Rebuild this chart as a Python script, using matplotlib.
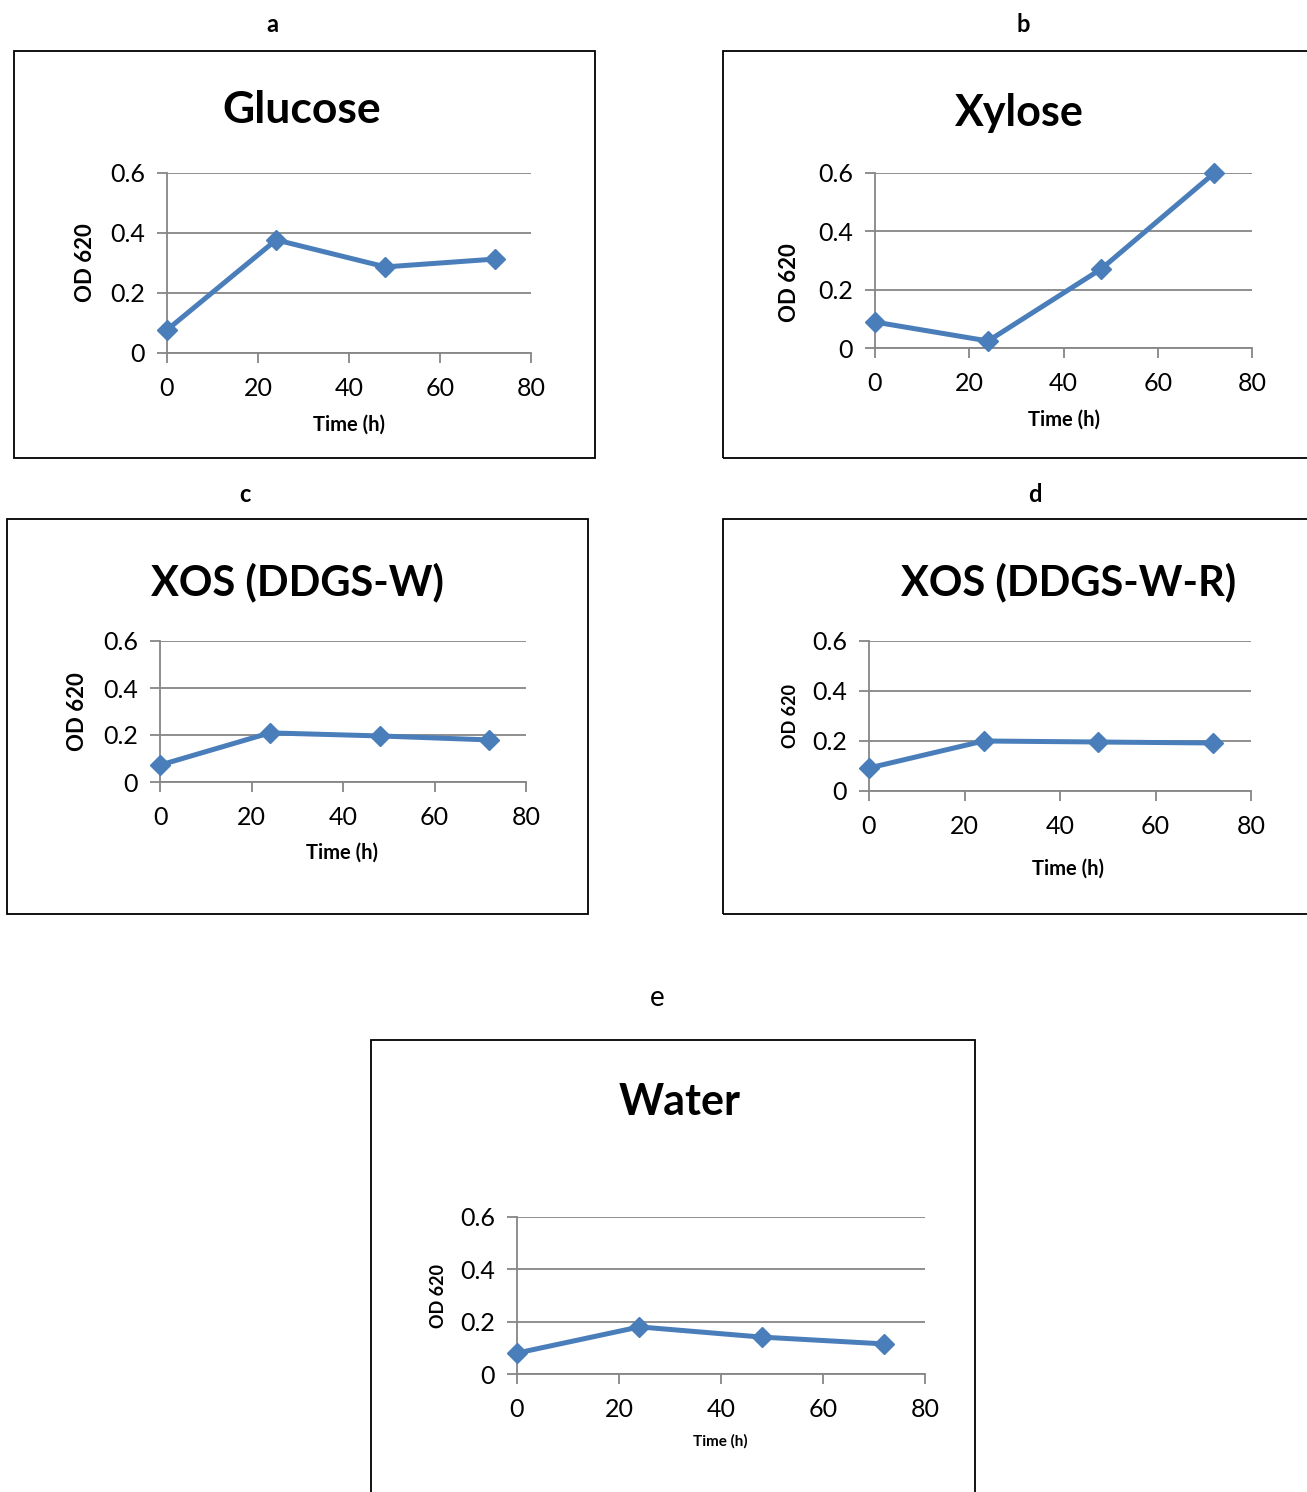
import numpy as np
import matplotlib.pyplot as plt
from matplotlib.patches import Rectangle

plt.rcParams['font.family'] = ['Lato', 'DejaVu Sans']

W, H = 1307, 1492

time_h = [0, 24, 48, 72]
od_glucose = [0.077, 0.377, 0.287, 0.313]
od_xylose = [0.089, 0.024, 0.271, 0.600]
od_xos_w = [0.072, 0.209, 0.196, 0.179]
od_xos_wr = [0.092, 0.200, 0.196, 0.192]
od_water = [0.080, 0.180, 0.141, 0.115]

panel_letters = ['a', 'b', 'c', 'd', 'e']
titles = ['Glucose', 'Xylose', 'XOS (DDGS-W)', 'XOS (DDGS-W-R)', 'Water']
series = [od_glucose, od_xylose, od_xos_w, od_xos_wr, od_water]

# layout in pixels: box, plot area, letter pos, title pos, ylabel pos, xlabel pos
boxes = [(14, 51, 595, 458), (723, 51, 1310, 458), (7, 519, 588, 914),
         (723, 519, 1310, 914), (371, 1040, 975, 1495)]
plot_areas = [(167, 173, 531, 353), (875, 173, 1252, 348), (160, 641, 526, 782),
              (869, 641, 1251, 791), (517, 1217, 925, 1374)]
letter_pos = [(272, 24), (1023, 24), (245, 494), (1035, 494), (657, 998)]
title_pos = [(302, 110), (1019, 113), (297, 582), (1069, 582), (680, 1102)]
title_size = [32, 31, 30, 30, 31]
ylab_pos = [(85, 263), (789, 283), (78, 712), (791, 716), (439, 1296)]
ylab_size = [16, 16, 16, 13, 13]
xlab_pos = [(349, 425), (1064, 420), (342, 853), (1068, 869), (720, 1441)]
xlab_size = [14.5, 14.5, 14.5, 14.5, 11]

fig = plt.figure(figsize=(W / 100, H / 100), dpi=100)

def fx(x):
    return x / W

def fy(y):
    return 1 - y / H

grid_c = '#868686'
blue = '#4a7ebb'

for i in range(5):
    x0, y0, x1, y1 = boxes[i]
    fig.patches.append(Rectangle((fx(x0), fy(y1)), (x1 - x0) / W, (y1 - y0) / H,
                                 transform=fig.transFigure, fill=False,
                                 edgecolor='black', lw=1.3))
    px0, py0, px1, py1 = plot_areas[i]
    ax = fig.add_axes([fx(px0), fy(py1), (px1 - px0) / W, (py1 - py0) / H])
    ax.plot(time_h, series[i], color=blue, lw=3.6, marker='D', ms=10,
            markeredgecolor=blue, zorder=3, clip_on=False)
    ax.set_xlim(0, 80)
    ax.set_ylim(0, 0.6)
    ax.set_xticks([0, 20, 40, 60, 80])
    ax.set_yticks([0, 0.2, 0.4, 0.6])
    ax.set_yticklabels(['0', '0.2', '0.4', '0.6'])
    ax.yaxis.grid(True, color=grid_c, lw=1.3)
    ax.set_axisbelow(True)
    for s in ['top', 'right']:
        ax.spines[s].set_visible(False)
    for s in ['left', 'bottom']:
        ax.spines[s].set_color(grid_c)
        ax.spines[s].set_linewidth(1.3)
    ax.tick_params(axis='both', direction='out', length=7, width=1.3,
                   color=grid_c, labelsize=18, labelcolor='black')
    ax.tick_params(axis='x', pad=10)
    ax.tick_params(axis='y', pad=9)
    ax.patch.set_alpha(0)

    lx, ly = letter_pos[i]
    fig.text(fx(lx), fy(ly), panel_letters[i], ha='center', va='center',
             fontsize=20 if i == 4 else 17, fontweight='normal' if i == 4 else 'bold')
    tx, ty = title_pos[i]
    fig.text(fx(tx), fy(ty), titles[i], ha='center', va='center',
             fontsize=title_size[i], fontweight='bold')
    yx, yy = ylab_pos[i]
    fig.text(fx(yx), fy(yy), 'OD 620', ha='center', va='center', rotation=90,
             fontsize=ylab_size[i], fontweight='bold')
    xx, xy = xlab_pos[i]
    fig.text(fx(xx), fy(xy), 'Time (h)', ha='center', va='center',
             fontsize=xlab_size[i], fontweight='bold')

fig.savefig('out.png', dpi=100)
